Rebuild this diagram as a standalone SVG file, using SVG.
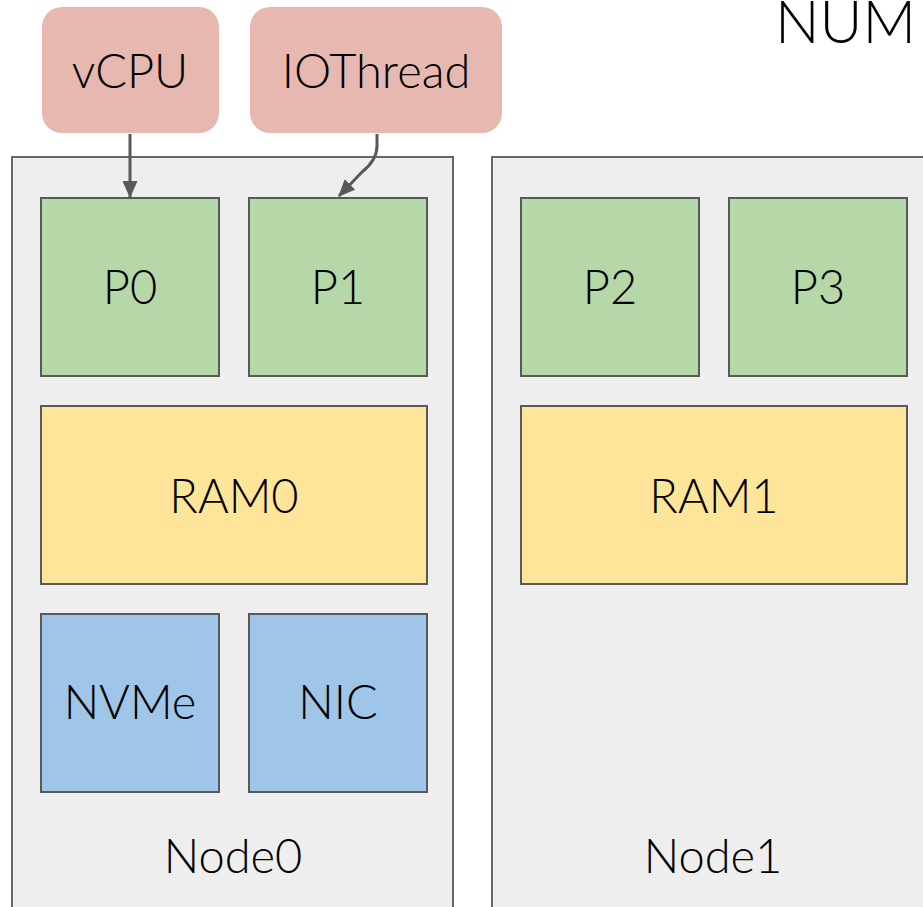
<svg xmlns="http://www.w3.org/2000/svg" width="923" height="907" viewBox="0 0 923 907">
<style>
text{font-family:"Lato","Open Sans","DejaVu Sans",sans-serif;fill:#000;text-anchor:middle}
.lbl{font-size:47px;font-weight:300}
.node{fill:#eeeeee;stroke:#666666;stroke-width:2}
.cpu{fill:#b6d7a8;stroke:#595959;stroke-width:2}
.ram{fill:#ffe599;stroke:#595959;stroke-width:2}
.dev{fill:#9fc5e8;stroke:#595959;stroke-width:2}
.thr{fill:#e6b8af}
.conn{fill:none;stroke:#595959;stroke-width:3}
</style>
<defs>
<marker id="ah" markerWidth="17" markerHeight="15" refX="16" refY="7.5" orient="auto" markerUnits="userSpaceOnUse">
<path d="M0,0 L17,7.5 L0,15 z" fill="#595959"/>
</marker>
</defs>
<rect width="923" height="907" fill="#ffffff"/>
<g id="title"><text x="775" y="43" font-size="59" font-weight="300" style="text-anchor:start">NUM</text></g>
<g id="node0"><rect class="node" x="12" y="157" width="441" height="760"/><text class="lbl" x="233" y="873">Node0</text></g>
<g id="node1"><rect class="node" x="492" y="157" width="441" height="760"/><text class="lbl" x="713" y="873">Node1</text></g>
<g id="vcpu"><rect class="thr" x="42" y="7" width="177" height="126" rx="20"/><text class="lbl" x="130" y="88">vCPU</text></g>
<g id="iothread"><rect class="thr" x="250" y="7" width="252" height="126" rx="20"/><text class="lbl" x="376" y="88">IOThread</text></g>
<g id="p0"><rect class="cpu" x="41" y="198" width="178" height="178"/><text class="lbl" x="130" y="304">P0</text></g>
<g id="p1"><rect class="cpu" x="249" y="198" width="178" height="178"/><text class="lbl" x="338" y="304">P1</text></g>
<g id="p2"><rect class="cpu" x="521" y="198" width="178" height="178"/><text class="lbl" x="610" y="304">P2</text></g>
<g id="p3"><rect class="cpu" x="729" y="198" width="178" height="178"/><text class="lbl" x="818" y="304">P3</text></g>
<g id="ram0"><rect class="ram" x="41" y="406" width="386" height="178"/><text class="lbl" x="234" y="513">RAM0</text></g>
<g id="ram1"><rect class="ram" x="521" y="406" width="386" height="178"/><text class="lbl" x="714" y="513">RAM1</text></g>
<g id="nvme"><rect class="dev" x="41" y="614" width="178" height="178"/><text class="lbl" x="130" y="719">NVMe</text></g>
<g id="nic"><rect class="dev" x="249" y="614" width="178" height="178"/><text class="lbl" x="338" y="719">NIC</text></g>
<g id="connectors">
<path class="conn" d="M130,134 L130,197" marker-end="url(#ah)"/>
<path class="conn" d="M377,134 L377,146 Q377,160 362,172 L339,196" marker-end="url(#ah)"/>
</g>
</svg>
